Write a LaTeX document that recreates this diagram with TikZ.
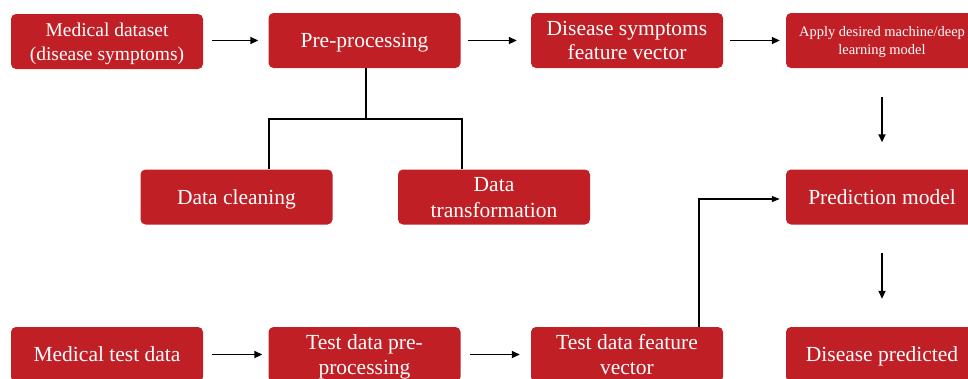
\documentclass[tikz,border=0pt]{standalone}
\usepackage{fontspec}
\setmainfont{Liberation Serif}
\newfontfamily\boxfont{Liberation Serif}
\usetikzlibrary{arrows.meta}
\definecolor{boxred}{HTML}{C01F26}
\begin{document}
\begin{tikzpicture}[x=1pt,y=-1pt,
  stage/.style={fill=boxred, rounded corners=5pt, minimum width=192pt, minimum height=55pt,
    inner sep=0pt, text depth=0pt, text=white, align=center, font=\boxfont\fontsize{21.5}{25}\selectfont},
  flow/.style={line width=1.8pt, -{Triangle[length=8pt,width=7pt]}},
  link/.style={line width=1.8pt},
  back/.style={line width=1.2pt, -{Triangle[length=8pt,width=6pt]}}]
\useasboundingbox (0,0) rectangle (968,378);
\clip (0,0) rectangle (968,378);

% top row
\node[stage, font=\boxfont\fontsize{19.5}{24.5}\selectfont] (ds) at (107,41.5) {Medical dataset\\(disease symptoms)};
\node[stage] (pre) at (364.5,40.5) {Pre-processing};
\node[stage, font=\boxfont\fontsize{21.5}{24.5}\selectfont] (fv) at (627,40.5) {Disease symptoms\\feature vector};
\node[stage, font=\boxfont\fontsize{14.5}{17.5}\selectfont] (apply) at (882,40.5) {Apply desired machine/deep\\learning model};

% pre-processing branches
\node[stage] (clean) at (236.5,197) {Data cleaning};
\node[stage, font=\boxfont\fontsize{21.5}{26}\selectfont] (trans) at (494,197) {Data\\transformation};
\node[stage] (pred) at (882,197) {Prediction model};

% bottom row
\node[stage] (mtd) at (107,354.5) {Medical test data};
\node[stage] (tpre) at (364.5,354.5) {Test data pre-\\processing};
\node[stage] (tfv) at (627,354.5) {Test data feature\\vector};
\node[stage] (dp) at (882,354.5) {Disease predicted};

% main flow
\draw[flow, shorten <=9pt, shorten >=10pt] (ds.east |- pre) -- (pre);
\draw[flow, shorten <=7pt, shorten >=14pt] (pre) -- (fv);
\draw[flow, shorten <=7pt, shorten >=6pt] (fv) -- (apply);
\draw[flow, shorten <=29pt, shorten >=27pt] (apply) -- (pred);
\draw[flow, shorten <=28pt, shorten >=28pt] (pred) -- (dp);
\draw[flow, shorten <=9pt, shorten >=6pt] (mtd) -- (tpre);
\draw[flow, shorten <=9pt, shorten >=11pt] (tpre) -- (tfv);

% split of pre-processing into its two steps
\coordinate (split) at (366,119);
\coordinate (lbr) at (269,119);
\coordinate (rbr) at (462,119);
\draw[link] (pre.south -| split) -- (split);
\draw[link, line cap=rect] (lbr) -- (rbr);
\draw[link] (lbr) -- (lbr |- clean.north);
\draw[link] (rbr) -- (rbr |- trans.north);

% test features feed the prediction model
\coordinate (up) at (699,199);
\draw[back, shorten >=6pt] (tfv.north -| up) -- (up) -- (pred.west |- up);
\end{tikzpicture}
\end{document}
